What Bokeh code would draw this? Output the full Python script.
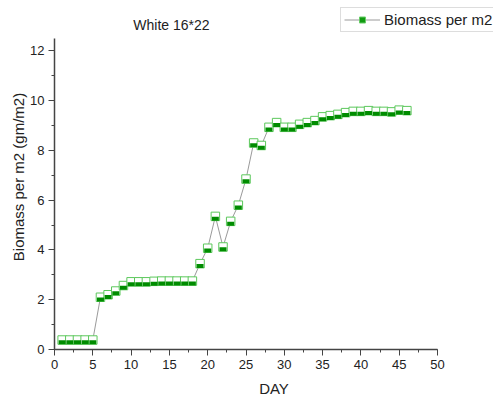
from bokeh.plotting import figure
from bokeh.models import (Range1d, SingleIntervalTicker, Legend, LegendItem,
                          ColumnDataSource, Label)
from bokeh.embed import file_html
from bokeh.resources import INLINE

day = list(range(1, 47))
biomass = [0.38, 0.38, 0.38, 0.38, 0.38, 2.10, 2.20, 2.35, 2.57, 2.72,
           2.72, 2.72, 2.74, 2.75, 2.75, 2.75, 2.75, 2.75, 3.45, 4.07,
           5.35, 4.12, 5.15, 5.80, 6.85, 8.30, 8.20, 8.93, 9.12, 8.93,
           8.93, 9.05, 9.12, 9.20, 9.35, 9.40, 9.45, 9.52, 9.57, 9.57,
           9.60, 9.57, 9.57, 9.55, 9.62, 9.60]
x_axis_end = 50
y_axis_end = 12.5
title_text = "White 16*22"
series_name = "Biomass per m2"

FONT = "Liberation Sans"

# layout in pixels
W, H = 493, 399
left, right_border, top, bottom = 54, 0, 4, 50
axis_right_px = 437   # where x = 50 sits
axis_top_px = 38      # where y = 12.5 sits
frame_w = W - left - right_border
frame_h = H - top - bottom
px_x = (axis_right_px - left) / x_axis_end
px_y = ((H - bottom) - axis_top_px) / y_axis_end

lower = [b - 2.3 / px_y for b in biomass]
src = ColumnDataSource(dict(x=day, y=biomass, yl=lower))

p = figure(width=W, height=H, output_backend="svg", toolbar_location=None,
           x_range=Range1d(0, frame_w / px_x), y_range=Range1d(0, frame_h / px_y),
           min_border_left=left, min_border_right=right_border,
           min_border_top=top, min_border_bottom=bottom)
p.outline_line_color = None
p.xgrid.visible = False
p.ygrid.visible = False

ln = p.line("x", "y", source=src, line_color="#9a9a9a", line_width=1)
# small marker for the legend key; hidden underneath the plotted markers
key = p.scatter("x", "y", source=src, marker="square", size=6, fill_color="#119a11",
                line_color="#66cc66", line_width=1)
sq = p.scatter("x", "y", source=src, marker="square", size=8.5, fill_color="white",
               line_color="#5cc85c", line_width=1)
p.rect("x", "yl", source=src, width=7, height=4, width_units="screen", height_units="screen",
       fill_color="#008c00", line_color=None)

for ax, interval, end in ((p.xaxis[0], 5, x_axis_end), (p.yaxis[0], 2, y_axis_end)):
    ax.ticker = SingleIntervalTicker(interval=interval, num_minor_ticks=2)
    ax.bounds = (0, end)
    ax.axis_line_color = "#444444"
    ax.axis_line_width = 1.5
    ax.major_tick_line_color = "#444444"
    ax.minor_tick_line_color = "#444444"
    ax.major_tick_in = 0
    ax.major_tick_out = 6
    ax.minor_tick_in = 0
    ax.minor_tick_out = 3
    ax.major_label_text_font = FONT
    ax.major_label_text_font_size = "13px"
    ax.major_label_text_color = "#222222"
    ax.axis_label_text_font = FONT
    ax.axis_label_text_font_size = "15px"
    ax.axis_label_text_font_style = "normal"
    ax.axis_label_text_color = "#222222"

p.xaxis.axis_label = "DAY"
p.yaxis.axis_label = "Biomass per m2 (gm/m2)"
p.xaxis.major_label_standoff = 4
p.yaxis.major_label_standoff = 4
p.xaxis.axis_label_standoff = 8
p.yaxis.axis_label_standoff = 0

p.add_layout(Label(x=(171 - left) / px_x, y=(H - bottom - 24) / px_y, text=title_text,
                   text_align="center", text_baseline="middle", text_font=FONT,
                   text_font_size="14px", text_color="#222222"))

legend = Legend(items=[LegendItem(label=series_name, renderers=[ln, key])],
                location=(340 - left, (H - bottom) - 32), glyph_width=36, glyph_height=15,
                label_text_font=FONT, label_text_font_size="15px",
                label_text_color="#222222", label_standoff=4,
                padding=3, margin=0, spacing=0,
                border_line_color="#bbbbbb", border_line_width=1,
                background_fill_alpha=1.0)
p.add_layout(legend, "center")

open("out.html", "w").write(file_html(p, INLINE))
